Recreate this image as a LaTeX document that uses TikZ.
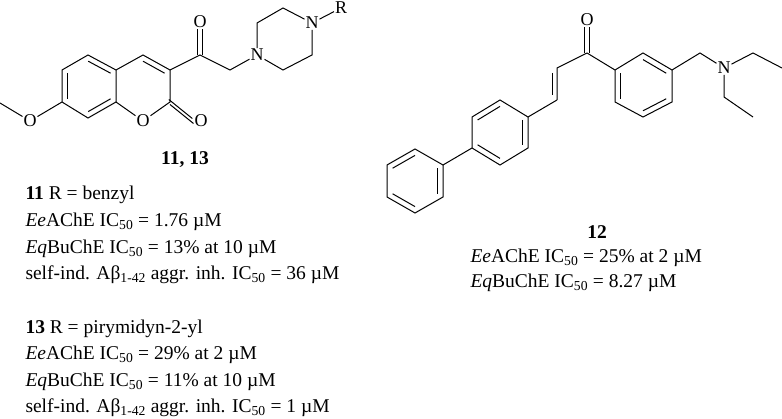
\documentclass[tikz,border=0pt]{standalone}
\usepackage{fontspec}
\setmainfont{Liberation Serif}
\usetikzlibrary{calc}
\newcommand\sbs[1]{\textsubscript{#1}}
\begin{document}
\begin{tikzpicture}[x=1pt,y=-1pt,line width=1pt,
  atom/.style={inner sep=0.5pt,font=\fontsize{18}{18}\selectfont},
  txt/.style={inner sep=0pt,font=\fontsize{19.5}{21}\selectfont,anchor=west}]
\useasboundingbox (0,0) rectangle (782,419);
\newcommand\inb[3]{\draw ($(#1)!0.2!(#3)$) -- ($(#2)!0.2!(#3)$);}
% ---- left molecule
\coordinate (b1) at (88,55); \coordinate (b2) at (116,70); \coordinate (b3) at (116,102);
\coordinate (b4) at (88,118); \coordinate (b5) at (62,102); \coordinate (b6) at (62,70);
\coordinate (bc) at (89,86);
\coordinate (c4) at (143,55); \coordinate (c3) at (170,70); \coordinate (c2) at (170,102);
\coordinate (pc) at (143,86);
\node[atom] (o1) at (143,121) {O};
\node[atom] (om) at (30,121) {O};
\coordinate (me) at (0,103);
\node[atom] (o2) at (201,121) {O};
\coordinate (co) at (200,55);
\node[atom] (o3) at (200,22) {O};
\coordinate (ch) at (230,70);
\node[atom] (n1) at (257,55) {N};
\coordinate (pa) at (257,23); \coordinate (pb) at (283,8);
\node[atom] (n4) at (312,23) {N};
\coordinate (pd) at (312,55); \coordinate (pe) at (283,70);
\node[atom] (r) at (341,8) {R};
\draw (b1)--(b2)--(b3)--(b4)--(b5)--(b6)--cycle;
\inb{b1}{b2}{bc}\inb{b5}{b6}{bc}\inb{b3}{b4}{bc}
\draw (b2)--(c4)--(c3)--(c2)--(o1)--(b3);
\inb{c4}{c3}{pc}
\draw (b5)--(om)--(me);
\draw ([yshift=-2.5pt]c2) -- ([yshift=-2.5pt]o2.west);
\draw ([xshift=-1.2pt,yshift=2.5pt]c2) -- ([xshift=-1.2pt,yshift=2.5pt]o2.west);
\draw (c3)--(co)--(ch)--(n1);
\draw ([xshift=-2.5pt]co) -- ([xshift=-2.5pt]o3.south);
\draw ([xshift=2.5pt]co) -- ([xshift=2.5pt]o3.south);
\draw (n1)--(pa)--(pb)--(n4)--(pd)--(pe)--(n1);
\draw (n4)--(r);
\node[inner sep=0pt,font=\fontsize{19.5}{21}\selectfont\bfseries] (l1) at (185,160) {11, 13};
% ---- right molecule
\coordinate (k) at (587,53);
\node[atom] (o4) at (587,20) {O};
\draw ([xshift=-2.5pt]k) -- ([xshift=-2.5pt]o4.south);
\draw ([xshift=2.5pt]k) -- ([xshift=2.5pt]o4.south);
\coordinate (ea) at (557,68); \coordinate (eb) at (557,100);
\draw (k)--(ea)--(eb);
\draw ([xshift=-5pt]$(ea)!0.15!(eb)$) -- ([xshift=-5pt]$(ea)!0.85!(eb)$);
\coordinate (q1) at (528,117); \coordinate (q2) at (528,148); \coordinate (q3) at (500,165);
\coordinate (q4) at (472,148); \coordinate (q5) at (472,117); \coordinate (q6) at (500,100);
\coordinate (qc) at (500,132);
\draw (eb)--(q1);
\draw (q1)--(q2)--(q3)--(q4)--(q5)--(q6)--cycle;
\inb{q5}{q6}{qc}\inb{q1}{q2}{qc}\inb{q3}{q4}{qc}
\coordinate (f1) at (443,165); \coordinate (f2) at (443,197); \coordinate (f3) at (415,213);
\coordinate (f4) at (387,197); \coordinate (f5) at (387,165); \coordinate (f6) at (415,149);
\coordinate (fc) at (415,181);
\draw (q4)--(f1);
\draw (f1)--(f2)--(f3)--(f4)--(f5)--(f6)--cycle;
\inb{f1}{f2}{fc}\inb{f5}{f6}{fc}\inb{f3}{f4}{fc}
\coordinate (g1) at (615,70); \coordinate (g2) at (643,53); \coordinate (g3) at (672,70);
\coordinate (g4) at (672,102); \coordinate (g5) at (643,117); \coordinate (g6) at (615,102);
\coordinate (gc) at (643,86);
\draw (k)--(g1);
\draw (g1)--(g2)--(g3)--(g4)--(g5)--(g6)--cycle;
\inb{g6}{g1}{gc}\inb{g2}{g3}{gc}\inb{g4}{g5}{gc}
\coordinate (h) at (700,53);
\node[atom] (n5) at (724,68) {N};
\coordinate (e1) at (753,53); \coordinate (e2) at (782,68);
\coordinate (e3) at (724,97); \coordinate (e4) at (753,117);
\draw (g3)--(h)--(n5)--(e1)--(e2);
\draw (n5)--(e3)--(e4);
\node[inner sep=0pt,font=\fontsize{19.5}{21}\selectfont\bfseries] (l2) at (597,232) {12};
% ---- texts
\node[txt] (t1) at (25,195) {\textbf{11} R = benzyl};
\node[txt] (t2) at (25,222) {\textit{Ee}AChE IC\sbs{50} = 1.76 µM};
\node[txt] (t3) at (25,249) {\textit{Eq}BuChE IC\sbs{50} = 13\% at 10 µM};
\node[txt] (t4) at (25,275) {self-ind. Aβ\sbs{1-42} aggr. inh. IC\sbs{50} = 36 µM};
\node[txt] (t5) at (25,329) {\textbf{13} R = pirymidyn-2-yl};
\node[txt] (t6) at (25,355) {\textit{Ee}AChE IC\sbs{50} = 29\% at 2 µM};
\node[txt] (t7) at (25,382) {\textit{Eq}BuChE IC\sbs{50} = 11\% at 10 µM};
\node[txt] (t8) at (25,408) {self-ind. Aβ\sbs{1-42} aggr. inh. IC\sbs{50} = 1 µM};
\node[txt] (t9) at (470,258) {\textit{Ee}AChE IC\sbs{50} = 25\% at 2 µM};
\node[txt] (t10) at (470,283) {\textit{Eq}BuChE IC\sbs{50} = 8.27 µM};
\end{tikzpicture}
\end{document}
